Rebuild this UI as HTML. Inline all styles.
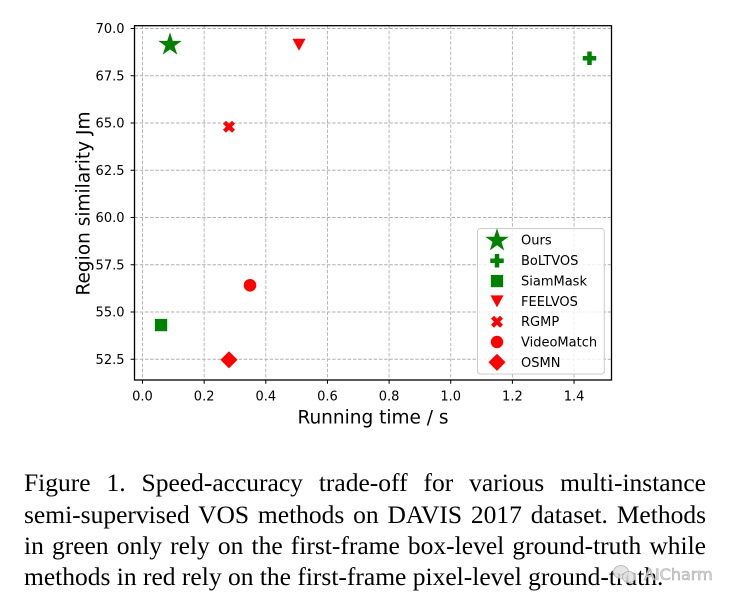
<!DOCTYPE html>
<html>
<head>
<meta charset="utf-8">
<style>
  html, body { margin:0; padding:0; background:#fff; }
  body { width:738px; height:606px; position:relative; overflow:hidden; }
  svg { position:absolute; left:0; top:0; }
  .cap { position:absolute; left:24px; width:682px; font-family:"Liberation Serif", "Times New Roman", serif; font-size:25.5px; line-height:31.4px; height:31.4px; color:#000; white-space:nowrap; }
  .j { text-align:justify; text-align-last:justify; white-space:normal; }
  .wm { position:absolute; font-family:"DejaVu Sans", "Liberation Sans", sans-serif; font-size:16px; color:rgba(215,215,215,0.92); left:644px; top:565px; letter-spacing:0px; -webkit-text-stroke:0.6px rgba(170,170,170,0.9); }
</style>
</head>
<body>
<svg width="738" height="606" viewBox="0 0 738 606" xmlns="http://www.w3.org/2000/svg">
  <defs>
    <path id="star" d="M0,-12.3 L2.763,-3.802 L11.698,-3.801 L4.47,1.452 L7.23,9.951 L0,4.7 L-7.23,9.951 L-4.47,1.452 L-11.698,-3.801 L-2.763,-3.802 Z"/>
    <path id="plus" d="M-2.25,-6.75 H2.25 V-2.25 H6.75 V2.25 H2.25 V6.75 H-2.25 V2.25 H-6.75 V-2.25 H-2.25 Z"/>
    <path id="xm" transform="rotate(45)" d="M-2.12,-6.35 H2.12 V-2.12 H6.35 V2.12 H2.12 V6.35 H-2.12 V2.12 H-6.35 V-2.12 H-2.12 Z"/>
    <path id="tri" d="M-6.5,-6 H6.5 L0,6 Z"/>
    <path id="dia" d="M0,-8.6 L8.5,0 L0,8.6 L-8.5,0 Z"/>
  </defs>

  <!-- grid -->
  <g stroke="#b0b0b0" stroke-width="0.9" stroke-dasharray="3.5,1.7" fill="none">
    <line x1="142.5" y1="25.5" x2="142.5" y2="380"/>
    <line x1="204.15" y1="25.5" x2="204.15" y2="380"/>
    <line x1="265.8" y1="25.5" x2="265.8" y2="380"/>
    <line x1="327.45" y1="25.5" x2="327.45" y2="380"/>
    <line x1="389.1" y1="25.5" x2="389.1" y2="380"/>
    <line x1="450.75" y1="25.5" x2="450.75" y2="380"/>
    <line x1="512.4" y1="25.5" x2="512.4" y2="380"/>
    <line x1="574.05" y1="25.5" x2="574.05" y2="380"/>
    <line x1="134.5" y1="28.5" x2="611.5" y2="28.5"/>
    <line x1="134.5" y1="75.75" x2="611.5" y2="75.75"/>
    <line x1="134.5" y1="123" x2="611.5" y2="123"/>
    <line x1="134.5" y1="170.25" x2="611.5" y2="170.25"/>
    <line x1="134.5" y1="217.5" x2="611.5" y2="217.5"/>
    <line x1="134.5" y1="264.75" x2="611.5" y2="264.75"/>
    <line x1="134.5" y1="312" x2="611.5" y2="312"/>
    <line x1="134.5" y1="359.25" x2="611.5" y2="359.25"/>
  </g>

  <!-- data points -->
  <use href="#star" x="170" y="44.7" fill="#008000"/>
  <use href="#plus" x="589.5" y="58.3" fill="#008000"/>
  <rect x="154.9" y="318.9" width="12.3" height="12.3" fill="#008000"/>
  <use href="#tri" x="299" y="44.7" fill="#ff0000"/>
  <use href="#xm" x="229" y="126.7" fill="#ff0000"/>
  <circle cx="250" cy="285.3" r="6.3" fill="#ff0000"/>
  <use href="#dia" x="229" y="359.8" fill="#ff0000"/>

  <!-- axes frame -->
  <rect x="134.5" y="25.7" width="477" height="354.3" fill="none" stroke="#000" stroke-width="1.3"/>

  <!-- ticks -->
  <g stroke="#000" stroke-width="1">
    <line x1="142.5" y1="380" x2="142.5" y2="383.8"/>
    <line x1="204.15" y1="380" x2="204.15" y2="383.8"/>
    <line x1="265.8" y1="380" x2="265.8" y2="383.8"/>
    <line x1="327.45" y1="380" x2="327.45" y2="383.8"/>
    <line x1="389.1" y1="380" x2="389.1" y2="383.8"/>
    <line x1="450.75" y1="380" x2="450.75" y2="383.8"/>
    <line x1="512.4" y1="380" x2="512.4" y2="383.8"/>
    <line x1="574.05" y1="380" x2="574.05" y2="383.8"/>
    <line x1="130.6" y1="28.5" x2="134.5" y2="28.5"/>
    <line x1="130.6" y1="75.75" x2="134.5" y2="75.75"/>
    <line x1="130.6" y1="123" x2="134.5" y2="123"/>
    <line x1="130.6" y1="170.25" x2="134.5" y2="170.25"/>
    <line x1="130.6" y1="217.5" x2="134.5" y2="217.5"/>
    <line x1="130.6" y1="264.75" x2="134.5" y2="264.75"/>
    <line x1="130.6" y1="312" x2="134.5" y2="312"/>
    <line x1="130.6" y1="359.25" x2="134.5" y2="359.25"/>
  </g>

  <!-- tick labels -->
  <g font-family="'DejaVu Sans', 'Liberation Sans', sans-serif" font-size="13" fill="#000">
    <g text-anchor="middle">
      <text x="142.5" y="400.7">0.0</text>
      <text x="204.15" y="400.7">0.2</text>
      <text x="265.8" y="400.7">0.4</text>
      <text x="327.45" y="400.7">0.6</text>
      <text x="389.1" y="400.7">0.8</text>
      <text x="450.75" y="400.7">1.0</text>
      <text x="512.4" y="400.7">1.2</text>
      <text x="574.05" y="400.7">1.4</text>
    </g>
    <g text-anchor="end">
      <text x="124.5" y="33.2">70.0</text>
      <text x="124.5" y="80.45">67.5</text>
      <text x="124.5" y="127.7">65.0</text>
      <text x="124.5" y="174.95">62.5</text>
      <text x="124.5" y="222.2">60.0</text>
      <text x="124.5" y="269.45">57.5</text>
      <text x="124.5" y="316.7">55.0</text>
      <text x="124.5" y="363.95">52.5</text>
    </g>
  </g>

  <!-- axis labels -->
  <g font-family="'DejaVu Sans', 'Liberation Sans', sans-serif" font-size="18.5" fill="#000" text-anchor="middle">
    <text x="373" y="423.3">Running time / s</text>
    <text transform="translate(89.3,203.5) rotate(-90)">Region similarity Jm</text>
  </g>

  <!-- legend -->
  <rect x="477.5" y="228.5" width="126.8" height="145.5" rx="3" ry="3" fill="#fff" fill-opacity="0.8" stroke="#cccccc" stroke-width="1"/>
  <use href="#star" x="497" y="240.5" fill="#008000"/>
  <use href="#plus" x="497" y="260.8" fill="#008000"/>
  <rect x="490.85" y="274.9" width="12.3" height="12.3" fill="#008000"/>
  <use href="#tri" x="497" y="301.4" fill="#ff0000"/>
  <use href="#xm" x="497" y="321.7" fill="#ff0000"/>
  <circle cx="497" cy="342" r="6.2" fill="#ff0000"/>
  <use href="#dia" x="497" y="362.3" fill="#ff0000"/>
  <g font-family="'DejaVu Sans', 'Liberation Sans', sans-serif" font-size="13" fill="#000">
    <text x="521" y="244.7">Ours</text>
    <text x="521" y="265.1">BoLTVOS</text>
    <text x="521" y="285.4">SiamMask</text>
    <text x="521" y="305.8">FEELVOS</text>
    <text x="521" y="326.1">RGMP</text>
    <text x="521" y="346.5">VideoMatch</text>
    <text x="521" y="366.8">OSMN</text>
  </g>
</svg>

<div class="cap j" style="top:467.2px;">Figure 1. Speed-accuracy trade-off for various multi-instance</div>
<div class="cap j" style="top:498.6px;">semi-supervised VOS methods on DAVIS 2017 dataset. Methods</div>
<div class="cap j" style="top:530px;">in green only rely on the first-frame box-level ground-truth while</div>
<div class="cap" style="top:561.4px;">methods in red rely on the first-frame pixel-level ground-truth.</div>

<svg width="738" height="606" viewBox="0 0 738 606" xmlns="http://www.w3.org/2000/svg" style="pointer-events:none">
  <g fill="rgba(225,225,225,0.85)" stroke="rgba(170,170,170,0.9)" stroke-width="0.8">
    <ellipse cx="621" cy="572" rx="7.5" ry="6.5"/>
    <ellipse cx="629" cy="577" rx="6.5" ry="5.5"/>
  </g>
</svg>
<div class="wm">AICharm</div>
</body>
</html>
